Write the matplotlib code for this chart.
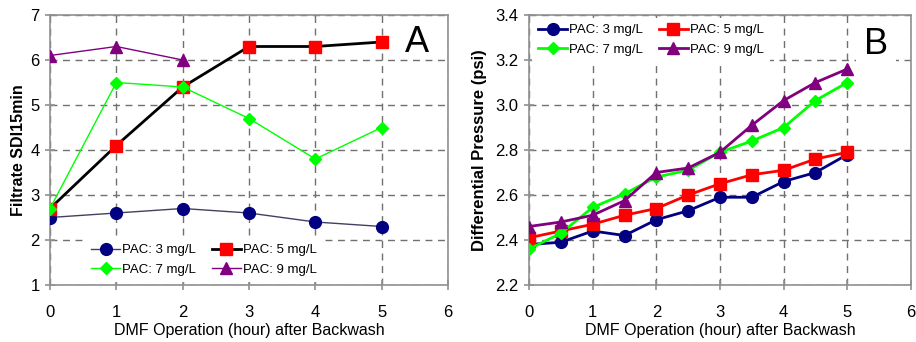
import numpy as np
import matplotlib
matplotlib.use("Agg")
import matplotlib.pyplot as plt

plt.rcParams['font.family'] = ['Liberation Sans', 'DejaVu Sans']

# Panel A - filtrate SDI15min
hours_a = [0, 1, 2, 3, 4, 5]
sdi_pac3 = [2.5, 2.6, 2.7, 2.6, 2.4, 2.3]
sdi_pac5 = [2.7, 4.1, 5.4, 6.3, 6.3, 6.4]
sdi_pac7 = [2.7, 5.5, 5.4, 4.7, 3.8, 4.5]
hours_a9 = [0, 1, 2]
sdi_pac9 = [6.1, 6.3, 6.0]

# Panel B - differential pressure
hours_b = [0, 0.5, 1, 1.5, 2, 2.5, 3, 3.5, 4, 4.5, 5]
dp_pac3 = [2.38, 2.39, 2.44, 2.42, 2.49, 2.53, 2.59, 2.59, 2.66, 2.70, 2.78]
dp_pac5 = [2.41, 2.44, 2.47, 2.51, 2.54, 2.60, 2.65, 2.69, 2.71, 2.76, 2.79]
dp_pac7 = [2.36, 2.43, 2.545, 2.605, 2.68, 2.71, 2.79, 2.84, 2.90, 3.02, 3.10]
dp_pac9 = [2.46, 2.48, 2.51, 2.575, 2.70, 2.72, 2.79, 2.91, 3.02, 3.10, 3.16]

labels = ['PAC: 3 mg/L', 'PAC: 5 mg/L', 'PAC: 7 mg/L', 'PAC: 9 mg/L']
navy = '#000080'
red = '#ff0000'
green = '#00ff00'
purple = '#800080'

fig = plt.figure(figsize=(9.16, 3.42), dpi=100)
ax1 = fig.add_axes([50/916, 57/342, 398/916, 270/342])
ax2 = fig.add_axes([529/916, 57/342, 382/916, 270/342])


def style(ax):
    for s in ax.spines.values():
        s.set_color('#909090')
        s.set_linewidth(1.2)
    ax.tick_params(direction='inout', length=7, color='#909090', width=1.2,
                   labelsize=12, pad=4)
    ax.tick_params(axis='x', pad=11)
    ax.grid(True, linestyle=(0, (5, 4)), color='#707070', linewidth=1.0)
    ax.set_axisbelow(True)
    ax.set_xlabel('DMF Operation (hour) after Backwash', fontsize=11.5, labelpad=2)


def legend_rows(ax, **kw):
    # row-major order like the original: 3, 5 / 7, 9
    h, l = ax.get_legend_handles_labels()
    order = [0, 2, 1, 3]
    leg = ax.legend([h[i] for i in order], [l[i] for i in order], ncol=2,
                    frameon=True, fontsize=9.5, handlelength=2.2,
                    columnspacing=1.2, handletextpad=0.15, borderpad=0.5,
                    labelspacing=0.55, **kw)
    leg.get_frame().set_edgecolor('none')
    leg.get_frame().set_facecolor('white')
    leg.get_frame().set_alpha(1)
    return leg


# Panel A
ax1.plot(hours_a, sdi_pac3, color='#404060', lw=1, marker='o', ms=8.5,
         mfc=navy, mec=navy, label=labels[0], zorder=3)
ax1.plot(hours_a, sdi_pac5, color='black', lw=2, marker='s', ms=8,
         mfc=red, mec=red, label=labels[1], zorder=4)
ax1.plot(hours_a, sdi_pac7, color=green, lw=1, marker='D', ms=6.5,
         mfc=green, mec=green, label=labels[2], zorder=5)
ax1.plot(hours_a9, sdi_pac9, color=purple, lw=1, marker='^', ms=9,
         mfc=purple, mec=purple, label=labels[3], zorder=3)
ax1.set_xlim(0, 6)
ax1.set_ylim(1, 7)
ax1.set_xticks(range(0, 7))
ax1.set_yticks(range(1, 8))
style(ax1)
ax1.set_ylabel('Filtrate SDI15min', fontsize=11.5, fontweight='bold', labelpad=3)
ax1.text(5.53, 6.4, 'A', fontsize=26, ha='center', va='center')
legend_rows(ax1, loc='lower left', bbox_to_anchor=(0.08, 0.0), borderaxespad=0.2)

# Panel B
ax2.plot(hours_b, dp_pac3, color=navy, lw=2, marker='o', ms=8.5, label=labels[0], zorder=3)
ax2.plot(hours_b, dp_pac5, color=red, lw=2, marker='s', ms=8, label=labels[1], zorder=3)
ax2.plot(hours_b, dp_pac7, color=green, lw=2, marker='D', ms=6.5, label=labels[2], zorder=3)
ax2.plot(hours_b, dp_pac9, color=purple, lw=2, marker='^', ms=9, label=labels[3], zorder=3)
ax2.set_xlim(0, 6)
ax2.set_ylim(2.2, 3.4)
ax2.set_xticks(range(0, 7))
ax2.set_yticks(np.arange(2.2, 3.41, 0.2))
ax2.yaxis.set_major_formatter(matplotlib.ticker.FormatStrFormatter('%.1f'))
style(ax2)
ax2.set_ylabel('Differential Pressure (psi)', fontsize=12, fontweight='bold', labelpad=6)
ax2.text(5.45, 3.27, 'B', fontsize=26, ha='center', va='center',
         bbox=dict(facecolor='white', edgecolor='none', pad=6), zorder=6)
legend_rows(ax2, loc='upper left', bbox_to_anchor=(0.0, 1.0), borderaxespad=0.2)

fig.savefig('out.png', dpi=100)
